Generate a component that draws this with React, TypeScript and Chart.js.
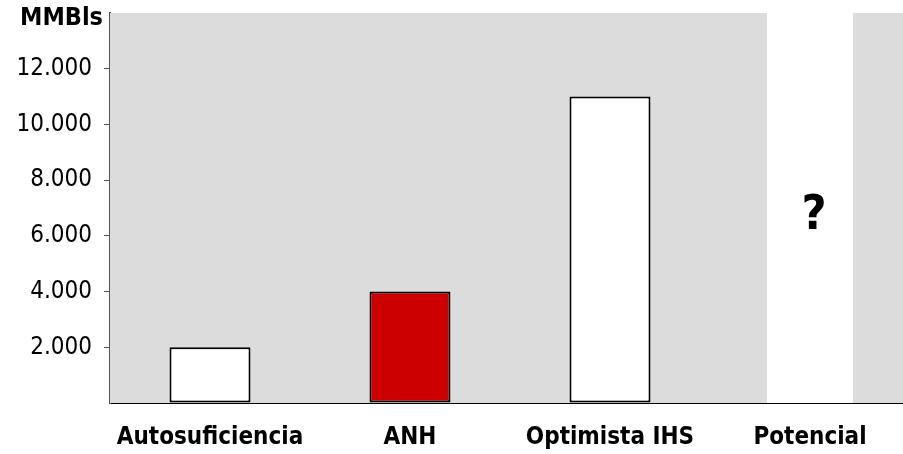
import React, { useEffect, useRef } from "react";
import { Chart, registerables } from "chart.js";

Chart.register(...registerables);

const categories = ["Autosuficiencia", "ANH", "Optimista IHS", "Potencial"];
const values: (number | null)[] = [2000, 4000, 11000, null];
const barColors = ["#ffffff", "#cc0000", "#ffffff", "#ffffff"];
const yTicks = [2000, 4000, 6000, 8000, 10000, 12000];
const yMax = 14000;
const unknownLabel = "?";
const unitLabel = "MMBls";
const unknownIndex = 3;

const FONT = "'DejaVu Sans Condensed', 'DejaVu Sans', sans-serif";

const fmt = (v: number) => v.toLocaleString("de-DE");

export default function App() {
  const ref = useRef<HTMLCanvasElement | null>(null);
  useEffect(() => {
    if (!ref.current) return;
    const bgPlugin = {
      id: "bg",
      beforeDatasetsDraw(chart: any) {
        const { ctx, chartArea, scales } = chart;
        ctx.save();
        ctx.fillStyle = "#dcdcdc";
        ctx.fillRect(chartArea.left, chartArea.top, chartArea.right - chartArea.left, chartArea.bottom - chartArea.top);
        const xs = scales.x;
        const cx = xs.getPixelForValue(unknownIndex);
        const w = (xs.width / categories.length) * 0.43;
        ctx.fillStyle = "#ffffff";
        ctx.fillRect(cx - w / 2, chartArea.top, w, chartArea.bottom - chartArea.top);
        ctx.restore();
      },
      afterDraw(chart: any) {
        const { ctx, scales } = chart;
        ctx.save();
        ctx.fillStyle = "#000";
        ctx.font = `bold 48px ${FONT}`;
        ctx.textAlign = "center";
        ctx.textBaseline = "middle";
        ctx.fillText(unknownLabel, scales.x.getPixelForValue(unknownIndex) + 4, scales.y.getPixelForValue(6700));
        ctx.font = `bold 25px ${FONT}`;
        ctx.textAlign = "right";
        ctx.fillText(unitLabel, 103, 18);
        ctx.restore();
      },
    };
    const chart = new Chart(ref.current, {
      type: "bar",
      data: {
        labels: categories,
        datasets: [
          {
            data: values,
            backgroundColor: barColors,
            borderColor: "#000000",
            borderWidth: 2,
            borderSkipped: false,
            categoryPercentage: 1,
            barPercentage: 0.405,
          },
        ],
      },
      options: {
        animation: false,
        responsive: true,
        maintainAspectRatio: false,
        layout: { padding: { top: 13, right: 0, left: 0, bottom: 0 } },
        plugins: { legend: { display: false }, tooltip: { enabled: false }, title: { display: false } },
        scales: {
          x: {
            grid: { display: false },
            border: { display: true, color: "#000000", width: 2 },
            ticks: {
              color: "#000",
              font: { family: FONT, size: 24, weight: "bold" },
              padding: 12,
              maxRotation: 0,
              autoSkip: false,
            },
            afterFit(scale: any) {
              scale.height = 51;
              scale.paddingLeft = 0;
              scale.paddingRight = 0;
            },
          },
          y: {
            min: 0,
            max: yMax,
            afterBuildTicks(scale: any) {
              scale.ticks = [0, ...yTicks, yMax].map((v) => ({ value: v }));
            },
            ticks: {
              color: "#000",
              font: { family: FONT, size: 24 },
              padding: 12,
              callback: (v: any) => (yTicks.includes(Number(v)) ? fmt(Number(v)) : ""),
            },
            grid: {
              drawOnChartArea: false,
              tickLength: 6,
              color: (c: any) => (c.tick && yTicks.includes(c.tick.value) ? "#555555" : "rgba(0,0,0,0)"),
            },
            border: { display: true, color: "#555555", width: 2 },
            afterFit(scale: any) {
              scale.width = 110;
              scale.paddingTop = 0;
              scale.paddingBottom = 0;
            },
          },
        },
      },
      plugins: [bgPlugin],
    });
    return () => chart.destroy();
  }, []);
  return (
    <div style={{ position: "fixed", left: 0, top: 0, width: 903, height: 454, overflow: "hidden", background: "#fff" }}>
      <div style={{ position: "absolute", left: 0, top: 0, width: 910, height: 454 }}>
        <canvas ref={ref} />
      </div>
    </div>
  );
}
